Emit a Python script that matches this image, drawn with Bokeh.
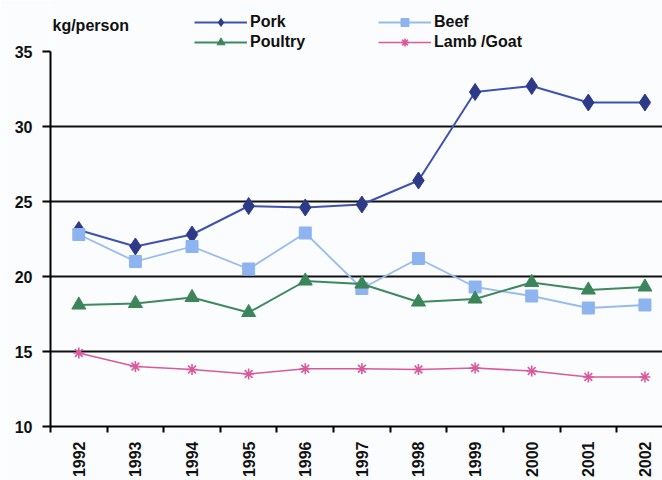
from bokeh.plotting import figure
from bokeh.models import Legend, LegendItem, FixedTicker, Range1d, Label
from bokeh.embed import file_html
from bokeh.resources import INLINE
import math

years = [1992, 1993, 1994, 1995, 1996, 1997, 1998, 1999, 2000, 2001, 2002]
pork = [23.1, 22.0, 22.8, 24.7, 24.6, 24.8, 26.4, 32.3, 32.7, 31.6, 31.6]
beef = [22.8, 21.0, 22.0, 20.5, 22.9, 19.2, 21.2, 19.3, 18.7, 17.9, 18.1]
poultry = [18.1, 18.2, 18.6, 17.6, 19.7, 19.5, 18.3, 18.5, 19.6, 19.1, 19.3]
lamb = [14.9, 14.0, 13.8, 13.5, 13.85, 13.85, 13.8, 13.9, 13.7, 13.3, 13.3]
y_ticks = [10, 15, 20, 25, 30, 35]
grid_ticks = [15, 20, 25, 30]
series_names = ["Pork", "Beef", "Poultry", "Lamb /Goat"]
unit_label = "kg/person"

FONT = "Liberation Sans"
BG = "#FBFCFD"
TXT = "#111111"

styles = {
    "Pork": dict(line="#3F52AE", lw=2, marker="diamond", size=17, fill="#2C3A88"),
    "Beef": dict(line="#98BCF0", lw=1.8, marker="square", size=12, fill="#8DB4EE"),
    "Poultry": dict(line="#3E8A5E", lw=2, marker="triangle", size=14, fill="#3C855A"),
    "Lamb /Goat": dict(line="#D95A9C", lw=1.6, marker="asterisk", size=11, fill="#D95A9C"),
}
values = {"Pork": pork, "Beef": beef, "Poultry": poultry, "Lamb /Goat": lamb}

# plot area reaches the top of the page so the legend rows can sit inside it;
# the y axis itself is bounded to 10..35
p = figure(width=662, height=480, output_backend="svg", toolbar_location=None,
           x_range=Range1d(1991.5, 2002.31), y_range=Range1d(10, 38.4),
           min_border_left=50, min_border_right=0, min_border_top=0, min_border_bottom=54,
           background_fill_color=BG, border_fill_color=BG)
p.outline_line_color = None

xa = p.xaxis[0]
xa.ticker = FixedTicker(ticks=years, minor_ticks=[y - 0.5 for y in years])
xa.major_label_orientation = math.pi / 2
xa.major_tick_out = 0
xa.major_tick_in = 0
xa.minor_tick_out = 6
xa.minor_tick_in = 0
xa.minor_tick_line_color = "black"
xa.minor_tick_line_width = 2
xa.axis_line_color = "black"
xa.axis_line_width = 2
xa.major_label_text_font = FONT
xa.major_label_text_font_style = "bold"
xa.major_label_text_font_size = "16px"
xa.major_label_text_color = TXT
xa.major_label_standoff = 9

ya = p.yaxis[0]
ya.ticker = FixedTicker(ticks=y_ticks)
ya.bounds = (y_ticks[0], y_ticks[-1])
ya.major_tick_out = 8
ya.major_tick_in = 0
ya.major_tick_line_width = 2
ya.minor_tick_out = 0
ya.minor_tick_in = 0
ya.axis_line_color = "black"
ya.axis_line_width = 2
ya.major_label_text_font = FONT
ya.major_label_text_font_style = "bold"
ya.major_label_text_font_size = "16px"
ya.major_label_text_color = TXT
ya.major_label_standoff = 10

p.xgrid.grid_line_color = None
p.ygrid.ticker = FixedTicker(ticks=grid_ticks)
p.ygrid.grid_line_color = "#111111"
p.ygrid.grid_line_width = 2

items = {}
for name in series_names:
    s = styles[name]
    lr = p.line(years, values[name], line_color=s["line"], line_width=s["lw"])
    if s["marker"] == "asterisk":
        mr = p.scatter(years, values[name], marker="asterisk", size=s["size"],
                       line_color=s["line"], line_width=s["lw"])
    else:
        mr = p.scatter(years, values[name], marker=s["marker"], size=s["size"],
                       fill_color=s["fill"], line_color=s["fill"])
    items[name] = LegendItem(label=name, renderers=[lr, mr])

def make_legend(its, x):
    return Legend(items=its, location=(x, 374), orientation="vertical",
                  glyph_width=53, glyph_height=20, label_standoff=3, spacing=0,
                  padding=0, margin=0, border_line_color=None, background_fill_alpha=0,
                  label_text_font=FONT, label_text_font_style="bold",
                  label_text_font_size="16px", label_text_color=TXT,
                  label_height=20)

p.add_layout(make_legend([items["Pork"], items["Poultry"]], 144), "center")
p.add_layout(make_legend([items["Beef"], items["Lamb /Goat"]], 328), "center")

p.add_layout(Label(x=2, y=401, x_units="screen", y_units="screen", text=unit_label,
                   text_baseline="middle", text_font=FONT, text_font_style="bold",
                   text_font_size="16px", text_color=TXT))

open("out.html", "w").write(file_html(p, INLINE))
